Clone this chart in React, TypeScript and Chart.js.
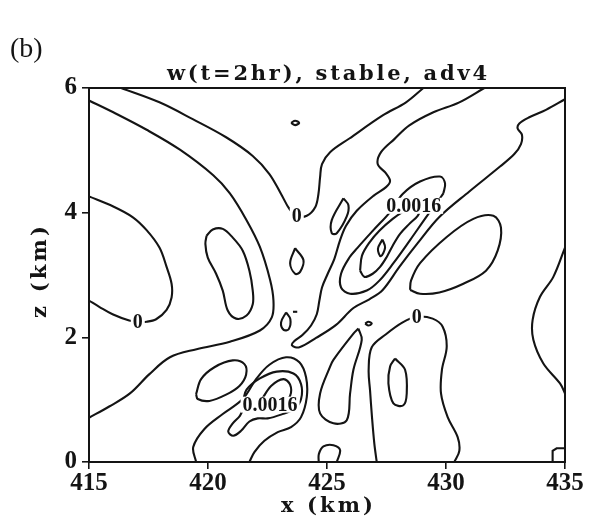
import React, { useEffect, useRef } from "react";
import { Chart, registerables } from "chart.js";

Chart.register(...registerables);

type P = [number, number];

// ---- axes ----
const xTicks = [415, 420, 425, 430, 435];
const zTicks = [0, 2, 4, 6];
const titleText = "w(t=2hr), stable, adv4";
const xTitle = "x (km)";
const zTitle = "z (km)";
const panelTag = "(b)";

// ---- contour labels ----
const labelText = ["0", "0", "0", "0.0016", "0.0016"];
const labelX = [423.73, 417.05, 428.77, 428.64, 422.61];
const labelZ = [3.95, 2.25, 2.33, 4.11, 0.92];

// ---- open contour lines (x km, z km) ----
const zeroTop: P[] = [
  [416.35, 6.0], [417.96, 5.77], [419.36, 5.5], [420.76, 5.21], [421.88, 4.91], [422.58, 4.62],
  [423.07, 4.3], [423.42, 4.06], [423.73, 3.95], [424.15, 3.95], [424.51, 4.09], [424.64, 4.3],
  [424.71, 4.57], [424.79, 4.78], [425.13, 4.97], [425.94, 5.19], [427.34, 5.56], [428.32, 5.77],
  [429.05, 6.0],
];
const leftArc: P[] = [
  [415.0, 5.8], [416.02, 5.61], [417.42, 5.33], [418.82, 5.01], [420.22, 4.6], [420.92, 4.31],
  [421.62, 3.88], [422.18, 3.45], [422.61, 2.92], [422.75, 2.59], [422.68, 2.32], [422.18, 2.11],
  [420.92, 1.93], [419.52, 1.81], [418.4, 1.68], [417.54, 1.41], [416.72, 1.1], [415.85, 0.89],
  [415.0, 0.71],
];
const zeroLeft: P[] = [
  [415.0, 4.26], [416.02, 4.1], [416.83, 3.93], [417.42, 3.72], [417.96, 3.44], [418.26, 3.13],
  [418.47, 2.86], [418.47, 2.64], [418.26, 2.44], [417.82, 2.29], [417.42, 2.25], [417.04, 2.25],
  [416.69, 2.27], [415.99, 2.37], [415.43, 2.49], [415.0, 2.59],
];
const centralU: P[] = [
  [431.61, 6.0], [430.56, 5.77], [429.47, 5.61], [428.46, 5.4], [427.83, 5.18], [427.27, 4.97],
  [427.13, 4.78], [427.48, 4.63], [427.65, 4.51], [427.48, 4.41], [426.95, 4.27], [426.25, 4.03],
  [425.8, 3.79], [425.55, 3.56], [425.31, 3.26], [425.03, 3.02], [424.79, 2.8], [424.68, 2.59],
  [424.57, 2.37], [424.33, 2.19], [423.98, 2.04], [423.63, 1.94], [423.53, 1.87], [423.84, 1.84],
  [424.54, 1.99], [425.38, 2.2], [426.11, 2.47], [426.78, 2.61], [427.34, 2.76], [428.04, 3.13],
  [428.81, 3.51], [429.72, 3.93], [430.98, 4.34], [432.27, 4.74], [432.87, 4.94], [433.15, 5.1],
  [433.19, 5.25], [433.01, 5.35], [433.08, 5.43], [433.5, 5.53], [434.2, 5.65], [435.0, 5.82],
];
const archZero: P[] = [
  [427.09, 0.0], [426.99, 0.29], [426.89, 0.72], [426.81, 1.14], [426.75, 1.48], [426.88, 1.84],
  [427.48, 2.05], [428.18, 2.24], [428.77, 2.33], [429.44, 2.3], [429.86, 2.17], [430.03, 1.85],
  [429.83, 1.48], [429.79, 1.1], [430.07, 0.72], [430.49, 0.4], [430.56, 0.18], [430.35, 0.0],
];
const rightBulge: P[] = [
  [435.0, 3.44], [434.51, 2.97], [433.95, 2.65], [433.64, 2.28], [433.67, 1.96], [434.09, 1.58],
  [434.79, 1.26], [435.0, 1.1],
];
const lowerOuter: P[] = [
  [419.5, 0.0], [419.38, 0.24], [419.85, 0.53], [420.62, 0.77], [421.46, 1.01], [422.02, 1.33],
  [422.58, 1.56], [423.28, 1.68], [423.84, 1.6], [424.12, 1.36], [424.15, 1.04], [423.91, 0.72],
  [423.49, 0.56], [422.93, 0.48], [422.37, 0.34], [421.95, 0.16], [421.74, 0.0],
];
const bottomBump: P[] = [
  [424.65, 0.0], [424.66, 0.13], [424.85, 0.25], [425.27, 0.27], [425.55, 0.19], [425.41, 0.0],
];
const cornerBox: P[] = [[434.48, 0.0], [434.48, 0.18], [434.65, 0.22], [435.0, 0.22]];
const dash: P[] = [[423.57, 2.41], [423.75, 2.41]];

// ---- closed contour loops ----
const leftOval: P[] = [
  [419.94, 3.63], [420.2, 3.73], [420.62, 3.74], [421.04, 3.6], [421.46, 3.39], [421.74, 3.07],
  [421.88, 2.75], [421.88, 2.53], [421.62, 2.35], [421.18, 2.3], [420.83, 2.43], [420.62, 2.75],
  [420.34, 3.02], [419.99, 3.28], [419.89, 3.5],
];
const tinyTop: P[] = [[423.49, 5.44], [423.66, 5.475], [423.83, 5.44], [423.66, 5.405]];
const diamond: P[] = [[423.66, 3.43], [424.01, 3.24], [423.87, 3.05], [423.66, 3.02], [423.45, 3.19]];
const smallLoop: P[] = [[423.28, 2.4], [423.46, 2.29], [423.39, 2.13], [423.18, 2.12], [423.07, 2.24]];
const tiltedLoop: P[] = [[425.69, 4.23], [425.9, 4.12], [425.83, 3.94], [425.41, 3.67], [425.2, 3.67], [425.2, 3.88]];
const upperOuter: P[] = [
  [429.89, 4.31], [429.58, 4.14], [429.19, 3.94], [428.49, 3.56], [427.79, 3.19], [427.2, 2.91],
  [426.67, 2.75], [425.97, 2.7], [425.59, 2.8], [425.59, 3.02], [425.94, 3.28], [426.29, 3.44],
  [426.95, 3.72], [427.65, 4.01], [428.18, 4.3], [428.91, 4.5], [429.75, 4.58], [429.96, 4.47],
];
const upperMid: P[] = [
  [426.39, 3.07], [426.47, 3.31], [426.78, 3.52], [427.2, 3.71], [427.76, 3.9], [428.25, 4.03],
  [428.64, 4.1], [428.88, 4.04], [428.81, 3.95], [428.46, 3.82], [428.07, 3.66], [427.76, 3.47],
  [427.51, 3.29], [427.23, 3.13], [426.92, 3.02], [426.57, 2.97],
];
const upperInner: P[] = [[427.33, 3.57], [427.44, 3.44], [427.26, 3.3], [427.14, 3.42]];
const negOval: P[] = [
  [428.49, 2.76], [428.91, 2.7], [429.72, 2.72], [430.73, 2.86], [431.68, 3.07], [432.17, 3.39],
  [432.31, 3.76], [431.99, 3.95], [431.15, 3.9], [430.03, 3.61], [428.91, 3.19], [428.53, 2.91],
];
const archInner: P[] = [
  [427.86, 1.66], [428.28, 1.48], [428.35, 1.1], [428.21, 0.91], [427.79, 0.94], [427.58, 1.26],
  [427.65, 1.53],
];
const midStrip: P[] = [
  [426.32, 2.14], [426.46, 1.96], [426.11, 1.48], [425.97, 1.1], [425.83, 0.67], [425.27, 0.62],
  [424.71, 0.78], [424.71, 1.1], [425.13, 1.53], [425.27, 1.64], [426.11, 2.06],
];
const tinyLoop: P[] = [[426.6, 2.22], [426.74, 2.25], [426.88, 2.22], [426.74, 2.19]];
const lowerMid: P[] = [
  [421.46, 0.96], [421.62, 1.16], [422.18, 1.34], [422.89, 1.45], [423.59, 1.42], [423.91, 1.25],
  [423.91, 1.01], [423.63, 0.85], [423.07, 0.76], [422.51, 0.7], [422.09, 0.7], [421.74, 0.65],
  [421.39, 0.5], [421.06, 0.42], [420.85, 0.49], [421.04, 0.62], [421.34, 0.74], [421.46, 0.85],
];
const lowerInner: P[] = [
  [422.27, 1.01], [422.65, 1.22], [423.17, 1.33], [423.45, 1.24], [423.45, 1.06], [423.14, 0.96],
  [422.58, 0.93],
];
const lowerLeftOval: P[] = [
  [419.5, 1.09], [419.71, 1.33], [420.27, 1.52], [421.04, 1.63], [421.53, 1.57], [421.6, 1.4],
  [421.32, 1.22], [420.76, 1.08], [420.06, 0.98], [419.57, 1.01],
];

const openLines: P[][] = [
  zeroTop, leftArc, zeroLeft, centralU, archZero, rightBulge, lowerOuter, bottomBump, cornerBox, dash,
];
const closedLoops: P[][] = [
  leftOval, tinyTop, diamond, smallLoop, tiltedLoop, upperOuter, upperMid, upperInner, negOval,
  archInner, midStrip, tinyLoop, lowerMid, lowerInner, lowerLeftOval,
];

const INK = "#141414";

function makeDataset(pts: P[], closed: boolean, tension: number) {
  const seq = closed ? [...pts, pts[0]] : pts;
  return {
    data: seq.map(([x, y]) => ({ x, y })),
    showLine: true,
    borderColor: INK,
    borderWidth: 2.1,
    pointRadius: 0,
    pointHoverRadius: 0,
    tension,
    fill: false,
  };
}

function spreadText(ctx: CanvasRenderingContext2D, text: string, x0: number, x1: number, y: number) {
  const chars = [...text];
  const ws = chars.map((c) => ctx.measureText(c).width);
  const total = ws.reduce((a, b) => a + b, 0);
  const gap = chars.length > 1 ? (x1 - x0 - total) / (chars.length - 1) : 0;
  let x = x0;
  chars.forEach((c, i) => {
    ctx.fillText(c, x, y);
    x += ws[i] + gap;
  });
}

const decorPlugin = {
  id: "decor",
  afterDatasetsDraw(chart: any) {
    const { ctx, chartArea, scales } = chart;
    const { left, right, top, bottom } = chartArea;
    ctx.save();
    // frame
    ctx.strokeStyle = INK;
    ctx.lineWidth = 2;
    ctx.strokeRect(left, top, right - left, bottom - top);
    // contour labels
    ctx.font = 'bold 20px "Liberation Serif", serif';
    ctx.textAlign = "center";
    ctx.textBaseline = "middle";
    labelText.forEach((t, i) => {
      const px = scales.x.getPixelForValue(labelX[i]);
      const py = scales.y.getPixelForValue(labelZ[i]);
      const w = ctx.measureText(t).width;
      ctx.fillStyle = "#ffffff";
      ctx.fillRect(px - w / 2 - 2, py - 8, w + 4, 16);
      ctx.fillStyle = INK;
      ctx.fillText(t, px, py + 1);
    });
    ctx.restore();
  },
  afterDraw(chart: any) {
    const { ctx, chartArea } = chart;
    const { left, right, top, bottom } = chartArea;
    const cx = (left + right) / 2;
    const cy = (top + bottom) / 2;
    ctx.save();
    ctx.fillStyle = INK;
    ctx.textBaseline = "alphabetic";
    ctx.textAlign = "left";
    // title
    ctx.font = 'bold 21px "DejaVu Serif", serif';
    spreadText(ctx, titleText, cx - 160, cx + 160, top - 8);
    // x axis title
    ctx.font = 'bold 21px "DejaVu Serif", serif';
    spreadText(ctx, xTitle, cx - 46, cx + 46, bottom + 50);
    // z axis title (rotated)
    ctx.save();
    ctx.translate(left - 43, cy - 3);
    ctx.rotate(-Math.PI / 2);
    spreadText(ctx, zTitle, -46, 46, 0);
    ctx.restore();
    // panel tag
    ctx.font = '28px "Liberation Serif", serif';
    ctx.fillText(panelTag, 10, 57);
    ctx.restore();
  },
};

export default function App() {
  const ref = useRef<HTMLCanvasElement | null>(null);
  useEffect(() => {
    if (!ref.current) return;
    const datasets = [
      ...openLines.map((p) => makeDataset(p, false, p === cornerBox ? 0 : 0.35)),
      ...closedLoops.map((p) => makeDataset(p, true, 0.35)),
    ];
    const tickFont = { family: '"Liberation Serif", serif', weight: "bold" as const, size: 25 };
    const chart = new Chart(ref.current, {
      type: "scatter",
      data: { datasets: datasets as any },
      options: {
        responsive: false,
        animation: false,
        devicePixelRatio: 1,
        layout: { padding: { left: 0, right: 25, top: 88, bottom: 0 } },
        plugins: { legend: { display: false }, tooltip: { enabled: false }, title: { display: false } },
        events: [],
        scales: {
          x: {
            type: "linear",
            min: 415,
            max: 435,
            afterBuildTicks: (s: any) => {
              s.ticks = xTicks.map((v) => ({ value: v }));
            },
            afterFit: (s: any) => {
              s.height = 54;
            },
            grid: { display: true, drawOnChartArea: false, drawTicks: true, tickLength: 7, color: INK, lineWidth: 1.6 },
            border: { display: true, color: INK, width: 2 },
            ticks: { color: INK, font: tickFont, padding: 0, maxRotation: 0, autoSkip: false },
          },
          y: {
            type: "linear",
            min: 0,
            max: 6,
            afterBuildTicks: (s: any) => {
              s.ticks = zTicks.map((v) => ({ value: v }));
            },
            afterFit: (s: any) => {
              s.width = 89;
            },
            grid: { display: true, drawOnChartArea: false, drawTicks: true, tickLength: 7, color: INK, lineWidth: 1.6 },
            border: { display: true, color: INK, width: 2 },
            ticks: { color: INK, font: tickFont, padding: 5, autoSkip: false },
          },
        },
      },
      plugins: [decorPlugin],
    });
    return () => chart.destroy();
  }, []);
  return (
    <div style={{ position: "absolute", left: 0, top: 0, width: 590, height: 516, background: "#ffffff" }}>
      <canvas ref={ref} width={590} height={516} style={{ display: "block", width: 590, height: 516 }} />
    </div>
  );
}
